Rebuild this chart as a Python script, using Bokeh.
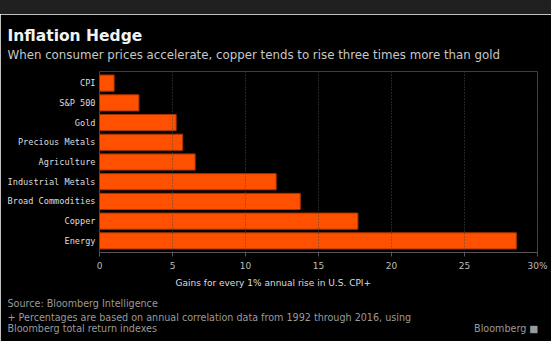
from bokeh.plotting import figure
from bokeh.models import FactorRange, Range1d, FixedTicker, ColumnDataSource, Span, Title, Div
from bokeh.layouts import column
from bokeh.embed import file_html
from bokeh.resources import INLINE

categories = ["CPI", "S&P 500", "Gold", "Precious Metals", "Agriculture",
              "Industrial Metals", "Broad Commodities", "Copper", "Energy"]
gains = [1.0, 2.7, 5.25, 5.7, 6.55, 12.1, 13.75, 17.7, 28.55]
x_ticks = [0, 5, 10, 15, 20, 25, 30]
x_tick_labels = ["0", "5", "10", "15", "20", "25", "30%"]

title = "Inflation Hedge"
subtitle = "When consumer prices accelerate, copper tends to rise three times more than gold"
x_label = "Gains for every 1% annual rise in U.S. CPI+"
source = "Source: Bloomberg Intelligence"
note1 = "+ Percentages are based on annual correlation data from 1992 through 2016, using"
note2 = "Bloomberg total return indexes"
brand = "Bloomberg \u25a0"

FONT = "DejaVu Sans"
W = 551

# ---- thin grey band at the very top ----
band = Div(text="", width=W, height=14, margin=(0, 0, 0, 0),
           styles={"background-color": "#202020"})

# ---- main chart ----
src = ColumnDataSource(dict(cat=categories, val=gains))

p = figure(width=W, height=327,
           y_range=FactorRange(factors=list(reversed(categories)), range_padding=0.02),
           x_range=Range1d(0, 30),
           output_backend="svg", toolbar_location=None,
           min_border_left=99, min_border_right=14, min_border_top=57, min_border_bottom=89)
p.background_fill_color = "black"
p.border_fill_color = "black"
p.outline_line_color = None

for t in x_ticks:
    p.add_layout(Span(location=t, dimension="height", line_color="#4a4a4a",
                      line_dash="1 2", line_width=1))

p.hbar(y="cat", right="val", left=0, height=0.82, source=src,
       fill_color="#ff5000", line_color="#a83500", line_width=1)

p.xaxis.ticker = FixedTicker(ticks=x_ticks)
p.xaxis.major_label_overrides = {t: l for t, l in zip(x_ticks, x_tick_labels)}
p.xaxis.axis_line_color = "#555555"
p.xaxis.major_tick_line_color = "#555555"
p.xaxis.major_tick_out = 4
p.xaxis.major_tick_in = 0
p.xaxis.minor_tick_line_color = None
p.xaxis.major_label_text_color = "#bbbbbb"
p.xaxis.major_label_text_font = FONT
p.xaxis.major_label_text_font_size = "9px"
p.xaxis.major_label_standoff = 4

p.yaxis.axis_line_color = None
p.yaxis.major_tick_line_color = None
p.yaxis.major_tick_out = 0
p.yaxis.minor_tick_line_color = None
p.yaxis.major_label_text_color = "#dddddd"
p.yaxis.major_label_text_font = "DejaVu Sans Mono"
p.yaxis.major_label_text_font_size = "8.6px"
p.yaxis.major_label_standoff = 4

p.grid.visible = False


def ttl(text, where, size, color, bold=False, offset=-92, standoff=4):
    p.add_layout(Title(text=text, align="left", offset=offset, standoff=standoff,
                       text_font=FONT, text_font_size=size, text_color=color,
                       text_font_style="bold" if bold else "normal"), where)


# above: first added sits nearest the plot
ttl(subtitle, "above", "11.8px", "#c8c8c8", standoff=20)
ttl(title, "above", "15.5px", "#f2f2f2", bold=True, standoff=-19)
# below: first added sits nearest the plot
ttl(x_label, "below", "9px", "#dddddd", offset=76, standoff=4)
ttl(source, "below", "9.6px", "#9a9a9a", standoff=12)
ttl(note1, "below", "9.6px", "#9a9a9a", standoff=-16)
gap = "\u00a0" * 104
ttl(note2 + gap + brand, "below", "9.6px", "#9a9a9a", standoff=13)

layout = column(band, p, spacing=0)
open("out.html", "w").write(file_html(layout, INLINE))
